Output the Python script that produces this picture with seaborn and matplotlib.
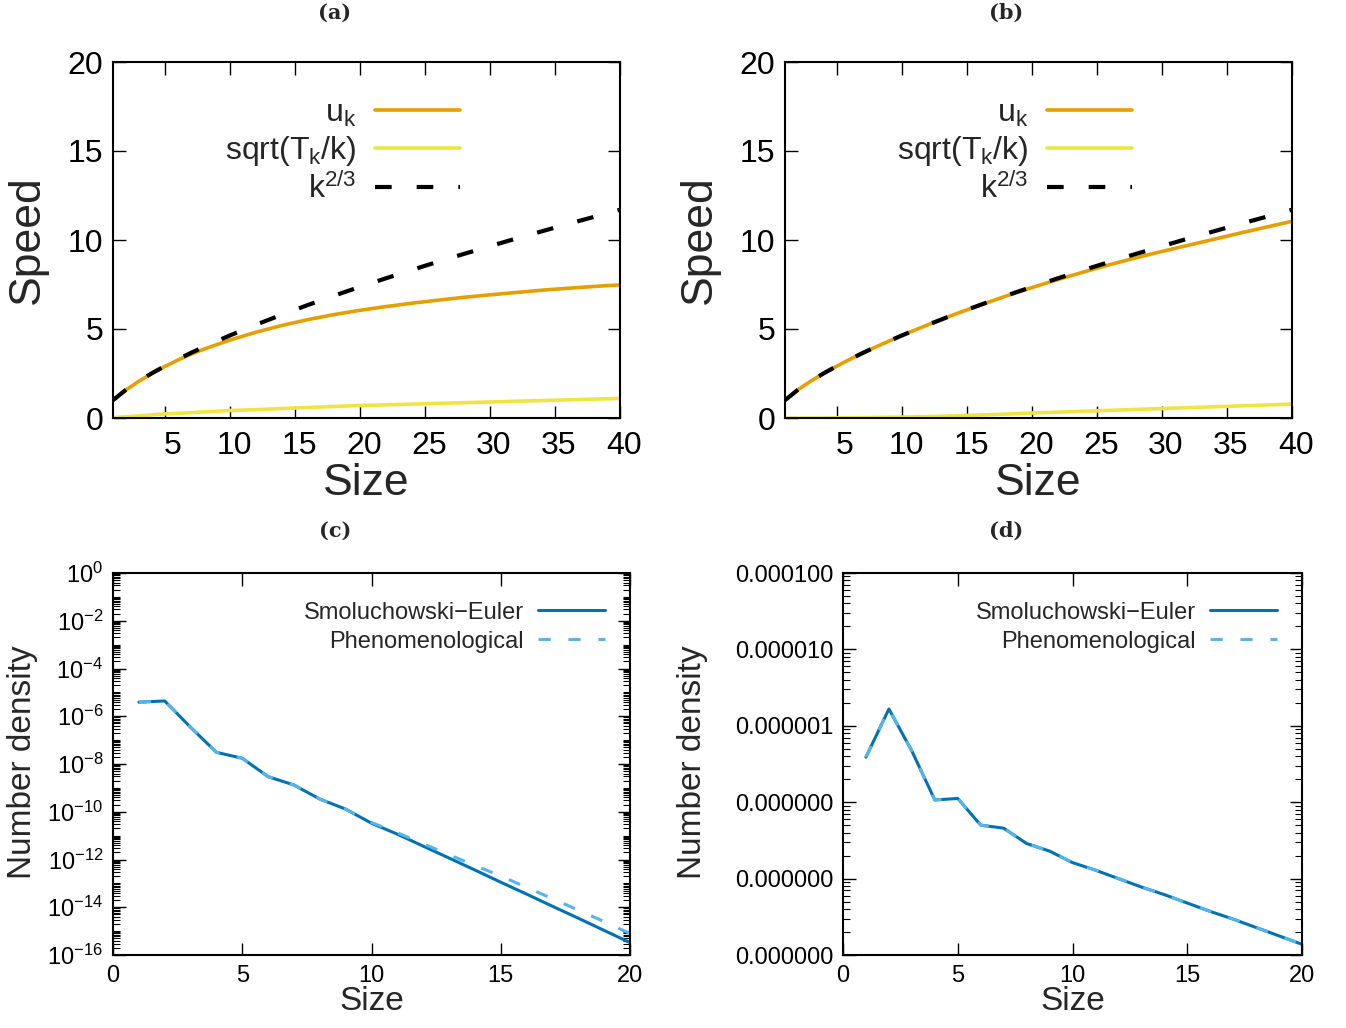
import matplotlib
matplotlib.use("Agg")
import matplotlib.pyplot as plt
import matplotlib.ticker as mticker
from matplotlib.transforms import ScaledTranslation
import numpy as np
import pandas as pd
import seaborn as sns

# ---------------- data ----------------
# panels (a),(b): speed vs size
size_k = [1, 2, 3, 4, 5, 6, 7, 8, 10, 12, 14, 16, 18, 20, 22, 24, 26, 28, 30, 32, 34, 36, 38, 40]
k23 = [1.00, 1.59, 2.08, 2.52, 2.92, 3.30, 3.66, 4.00, 4.64, 5.24, 5.81, 6.35, 6.87, 7.37,
       7.85, 8.32, 8.78, 9.22, 9.65, 10.08, 10.49, 10.90, 11.30, 11.70]
u_a = [1.00, 1.58, 2.07, 2.50, 2.90, 3.26, 3.58, 3.87, 4.38, 4.82, 5.20, 5.53, 5.81, 6.05,
       6.26, 6.45, 6.62, 6.78, 6.92, 7.05, 7.18, 7.29, 7.39, 7.48]
s_a = [0.02, 0.07, 0.12, 0.18, 0.23, 0.26, 0.30, 0.34, 0.42, 0.47, 0.53, 0.59, 0.65, 0.70,
       0.74, 0.78, 0.82, 0.86, 0.90, 0.94, 0.98, 1.02, 1.06, 1.10]
u_b = [1.00, 1.59, 2.08, 2.52, 2.92, 3.30, 3.66, 4.00, 4.64, 5.24, 5.81, 6.34, 6.85, 7.33,
       7.78, 8.21, 8.62, 9.00, 9.36, 9.70, 10.04, 10.39, 10.72, 11.05]
s_b = [0.00, 0.00, 0.00, 0.00, 0.01, 0.01, 0.02, 0.03, 0.05, 0.08, 0.12, 0.17, 0.22, 0.28,
       0.33, 0.38, 0.43, 0.48, 0.53, 0.58, 0.63, 0.68, 0.73, 0.78]

# panels (c),(d): number density vs size
size_n = list(range(1, 21))
se_c = [3.89e-6, 4.37e-6, 3.47e-7, 3.09e-8, 1.74e-8, 2.95e-9, 1.32e-9, 3.39e-10, 1.29e-10,
        3.31e-11, 1.15e-11, 3.63e-12, 1.15e-12, 3.63e-13, 1.12e-13, 3.55e-14, 1.10e-14,
        3.47e-15, 1.07e-15, 3.31e-16]
ph_c = [3.89e-6, 4.37e-6, 3.47e-7, 3.09e-8, 1.74e-8, 2.95e-9, 1.32e-9, 3.39e-10, 1.29e-10,
        3.55e-11, 1.32e-11, 4.57e-12, 1.58e-12, 5.62e-13, 2.04e-13, 6.76e-14, 2.29e-14,
        7.59e-15, 2.51e-15, 7.94e-16]
se_d = [3.89e-7, 1.66e-6, 4.68e-7, 1.07e-7, 1.12e-7, 5.01e-8, 4.57e-8, 2.88e-8, 2.29e-8,
        1.62e-8, 1.29e-8, 1.00e-8, 7.76e-9, 6.17e-9, 4.79e-9, 3.72e-9, 2.95e-9, 2.29e-9,
        1.78e-9, 1.38e-9]
ph_d = [3.89e-7, 1.66e-6, 4.68e-7, 1.07e-7, 1.12e-7, 5.01e-8, 4.57e-8, 2.88e-8, 2.29e-8,
        1.62e-8, 1.29e-8, 1.00e-8, 7.76e-9, 6.17e-9, 4.79e-9, 3.72e-9, 2.95e-9, 2.29e-9,
        1.78e-9, 1.38e-9]

speed_labels = [r"u$_\mathrm{k}$", r"sqrt(T$_\mathrm{k}$/k)", r"k$^\mathrm{2/3}$"]
dens_labels = ["Smoluchowski\u2212Euler", "Phenomenological"]
panel_titles = ["(a)", "(b)", "(c)", "(d)"]

# ---------------- style ----------------
sns.set_theme(style="ticks")
plt.rcParams["font.family"] = ["Liberation Sans", "DejaVu Sans"]
plt.rcParams["mathtext.fontset"] = "custom"
plt.rcParams["mathtext.rm"] = "Liberation Sans"
plt.rcParams["mathtext.it"] = "Liberation Sans:italic"
plt.rcParams["mathtext.bf"] = "Liberation Sans:bold"
plt.rcParams["axes.unicode_minus"] = True

C_ORANGE = "#E69F00"
C_YELLOW = "#F0E442"
C_DBLUE = "#0072B2"
C_LBLUE = "#56B4E9"

W, H = 1346, 1028
fig = plt.figure(figsize=(W / 100, H / 100), dpi=100)


def px_axes(l, r, t, b):
    return fig.add_axes([l / W, 1 - b / H, (r - l) / W, (b - t) / H])


def style_axes(ax, lw=1.5):
    for sp in ax.spines.values():
        sp.set_linewidth(lw)
        sp.set_color("black")
        sp.set_visible(True)


ax_a = px_axes(113, 620, 62, 418)
ax_b = px_axes(785, 1292, 62, 418)
ax_c = px_axes(113, 630, 573, 955)
ax_d = px_axes(843, 1302, 573, 955)

# ---------- speed panels ----------
for ax, u, s in [(ax_a, u_a, s_a), (ax_b, u_b, s_b)]:
    df = pd.DataFrame({"k": size_k, "u": u, "s": s, "p": k23})
    sns.lineplot(data=df, x="k", y="u", ax=ax, color=C_ORANGE, lw=2.6, errorbar=None)
    l_u = ax.lines[-1]
    sns.lineplot(data=df, x="k", y="s", ax=ax, color=C_YELLOW, lw=2.6, errorbar=None)
    l_s = ax.lines[-1]
    sns.lineplot(data=df, x="k", y="p", ax=ax, color="black", lw=3.0, errorbar=None)
    l_p = ax.lines[-1]
    l_p.set_dashes((4.0, 6.0))
    l_p.set_dash_capstyle("butt")

    ax.set_xlim(1, 40)
    ax.set_ylim(0, 20)
    ax.set_xticks([5, 10, 15, 20, 25, 30, 35, 40])
    ax.set_yticks([0, 5, 10, 15, 20])
    ax.tick_params(which="major", direction="in", top=True, right=True, length=9,
                   width=1.0, labelsize=23, colors="black")
    ax.tick_params(axis="x", pad=9)
    ax.tick_params(axis="y", pad=7)
    style_axes(ax)
    ax.set_xlabel("Size", fontsize=32)
    ax.set_ylabel("Speed", fontsize=32)
    ax.xaxis.set_label_coords(0.5, -0.183)
    ax.xaxis.label.set_va("center")
    ax.yaxis.set_label_coords(-0.168, 0.5)
    ax.yaxis.label.set_va("center")
    # gnuplot-like label offset
    for lab in ax.get_xticklabels():
        off = 8 if len(lab.get_text()) == 1 else 4
        lab.set_transform(lab.get_transform() + ScaledTranslation(off / 100, 0, fig.dpi_scale_trans))
    ax.legend([l_u, l_s, l_p], speed_labels, loc="upper right", bbox_to_anchor=(0.685, 0.897),
              frameon=False, markerfirst=False, fontsize=23, handlelength=2.66,
              handletextpad=0.6, labelspacing=0.16, borderaxespad=0, borderpad=0)

# ---------- density panels ----------
def fmt_pow(v, pos):
    e = int(round(np.log10(v)))
    return r"$\mathregular{10^{%d}}$" % e


for ax, se, ph, kind in [(ax_c, se_c, ph_c, "c"), (ax_d, se_d, ph_d, "d")]:
    df = pd.DataFrame({"k": size_n, "se": se, "ph": ph})
    sns.lineplot(data=df, x="k", y="se", ax=ax, color=C_DBLUE, lw=2.2, errorbar=None)
    l1 = ax.lines[-1]
    sns.lineplot(data=df, x="k", y="ph", ax=ax, color=C_LBLUE, lw=2.2, errorbar=None)
    l2 = ax.lines[-1]
    l2.set_dashes((4.0, 5.8))
    l2.set_dash_capstyle("butt")
    ax.set_yscale("log")
    ax.set_xlim(0, 20)
    ax.set_xticks([0, 5, 10, 15, 20])
    if kind == "c":
        ax.set_ylim(1e-16, 1e0)
        ax.yaxis.set_major_locator(mticker.FixedLocator([10.0 ** e for e in range(-16, 1, 2)]))
        ax.yaxis.set_major_formatter(mticker.FuncFormatter(fmt_pow))
    else:
        ax.set_ylim(1e-9, 1e-4)
        ax.yaxis.set_major_locator(mticker.FixedLocator([10.0 ** e for e in range(-9, -3)]))
        ax.yaxis.set_major_formatter(mticker.FuncFormatter(lambda v, p: "%f" % v))
    ax.yaxis.set_minor_locator(mticker.LogLocator(base=10, subs=np.arange(1, 10), numticks=200))
    ax.yaxis.set_minor_formatter(mticker.NullFormatter())
    ax.tick_params(which="major", direction="in", top=True, right=True, length=9,
                   width=1.0, labelsize=17, colors="black")
    ax.tick_params(which="minor", direction="in", top=True, right=True, length=5,
                   width=0.8, colors="black")
    ax.tick_params(axis="x", pad=7)
    ax.tick_params(axis="y", pad=7)
    style_axes(ax)
    ax.set_xlabel("Size", fontsize=24)
    ax.set_ylabel("Number density", fontsize=24)
    ax.xaxis.set_label_coords(0.5, -0.123)
    ax.xaxis.label.set_va("center")
    ax.yaxis.set_label_coords(-0.176 if kind == "c" else -0.327, 0.505)
    ax.yaxis.label.set_va("center")
    ax.legend([l1, l2], dens_labels, loc="upper right",
              bbox_to_anchor=(0.952 if kind == "c" else 0.946, 0.925),
              frameon=False, markerfirst=False, fontsize=17, handlelength=2.84,
              handletextpad=0.6, labelspacing=0.3, borderaxespad=0, borderpad=0)

# panel titles
for t, (x, y) in zip(panel_titles, [(335, 13), (1006, 13), (335, 531), (1006, 531)]):
    fig.text(x / W, 1 - y / H, t, ha="center", va="center", fontsize=15,
             fontweight="bold", family="DejaVu Serif")

fig.savefig("out.png", dpi=100)
